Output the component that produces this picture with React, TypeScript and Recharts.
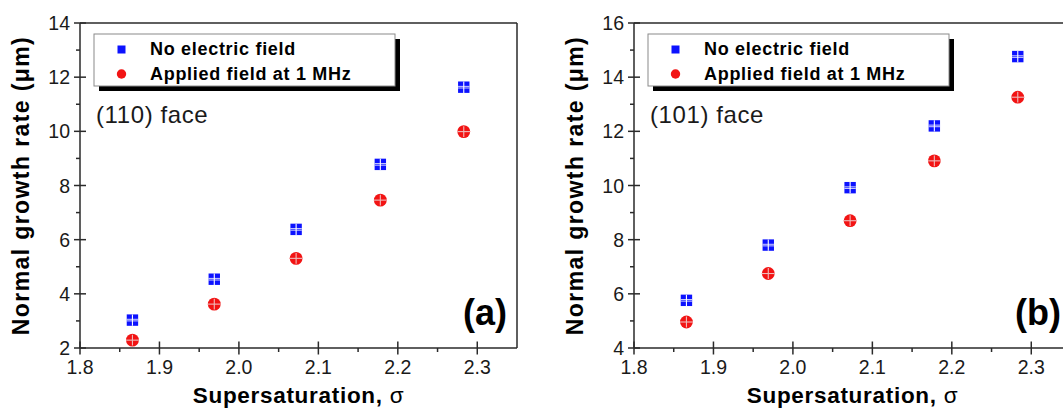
import { ScatterChart, Scatter, XAxis, YAxis, ReferenceLine } from "recharts";

// sigma positions shared by both panels
const sigma = [1.866, 1.969, 2.072, 2.178, 2.283];

// (110) face
const noField110 = [3.03, 4.54, 6.38, 8.78, 11.63];
const applied110 = [2.29, 3.62, 5.31, 7.46, 9.99];

// (101) face
const noField101 = [5.76, 7.8, 9.92, 12.2, 14.76];
const applied101 = [4.96, 6.75, 8.7, 10.91, 13.26];

const xTicks = [1.8, 1.85, 1.9, 1.95, 2.0, 2.05, 2.1, 2.15, 2.2, 2.25, 2.3];
const yTicks110 = [2, 3, 4, 5, 6, 7, 8, 9, 10, 11, 12, 13, 14];
const yTicks101 = [4, 5, 6, 7, 8, 9, 10, 11, 12, 13, 14, 15, 16];

const seriesNames = ["No electric field", "Applied field at 1 MHz"];

const FONT = '"Liberation Sans", Arial, Helvetica, sans-serif';
const AXIS = "#2a2a2a";
const TXT = "#1a1a1a";
const BLUE = "#0c12ff";
const RED = "#f21414";

const W = 546;
const H = 408;
const YW = 80;
const XH = 60;
const MARGIN = { top: 23, right: 29, bottom: 0, left: 0 };
const PL = YW;
const PR = W - MARGIN.right;
const PT = MARGIN.top;
const PB = H - XH;

const toPts = (ys: number[]) => sigma.map((x, i) => ({ x, y: ys[i] }));

function XTick({ x, y, payload }: any) {
  const v = payload.value as number;
  const major = Math.abs(v * 10 - Math.round(v * 10)) < 1e-6;
  return (
    <g>
      {major ? (
        <line x1={x} x2={x} y1={y - 6.5} y2={y + 6.5} stroke={AXIS} strokeWidth={1.5} />
      ) : (
        <line x1={x} x2={x} y1={y} y2={y + 4} stroke={AXIS} strokeWidth={1.5} />
      )}
      {major && (
        <text x={x} y={y + 26} textAnchor="middle" fontSize={19.5} fill={TXT} fontFamily={FONT}>
          {v.toFixed(1)}
        </text>
      )}
    </g>
  );
}

function YTick({ x, y, payload }: any) {
  const v = payload.value as number;
  const major = v % 2 === 0;
  return (
    <g>
      {major ? (
        <line x1={x - 6} x2={x + 6} y1={y} y2={y} stroke={AXIS} strokeWidth={1.5} />
      ) : (
        <line x1={x - 4} x2={x} y1={y} y2={y} stroke={AXIS} strokeWidth={1.5} />
      )}
      {major && (
        <text x={x - 10} y={y + 7} textAnchor="end" fontSize={19.5} fill={TXT} fontFamily={FONT}>
          {v}
        </text>
      )}
    </g>
  );
}

function SquareDot({ cx, cy }: any) {
  const s = 5.7;
  return (
    <g>
      <rect x={cx - s} y={cy - s} width={2 * s} height={2 * s} fill={BLUE} />
      <line x1={cx - s} x2={cx + s} y1={cy - 0.8} y2={cy - 0.8} stroke="#ffffff" strokeWidth={0.8} />
      <line x1={cx - s} x2={cx + s} y1={cy + 0.8} y2={cy + 0.8} stroke="#ffffff" strokeWidth={0.8} />
      <line x1={cx} x2={cx} y1={cy - s} y2={cy + s} stroke="#ffffff" strokeWidth={1.1} />
    </g>
  );
}

function CircleDot({ cx, cy }: any) {
  const r = 6.4;
  return (
    <g>
      <circle cx={cx} cy={cy} r={r} fill={RED} />
      <line x1={cx - r} x2={cx + r} y1={cy} y2={cy} stroke="#eebbbb" strokeWidth={1.1} />
      <line x1={cx} x2={cx} y1={cy - r + 1} y2={cy + r - 1} stroke="#eebbbb" strokeWidth={1.1} />
    </g>
  );
}

function Panel({
  left,
  yDomain,
  yTicks,
  noField,
  applied,
  face,
  letter,
}: {
  left: number;
  yDomain: [number, number];
  yTicks: number[];
  noField: number[];
  applied: number[];
  face: string;
  letter: string;
}) {
  const lx = PL + 14;
  const ly = 34;
  const cxMid = (PL + PR) / 2;
  const cyMid = (PT + PB) / 2;
  return (
    <div style={{ position: "absolute", left, top: 0, width: W, height: H }}>
      <ScatterChart width={W} height={H} margin={MARGIN}>
        <XAxis
          type="number"
          dataKey="x"
          domain={[1.8, 2.35]}
          ticks={xTicks}
          interval={0}
          allowDataOverflow
          tickLine={false}
          tickSize={0}
          tickMargin={0}
          height={XH}
          axisLine={{ stroke: AXIS, strokeWidth: 1.5 }}
          tick={(p: any) => <XTick {...p} />}
        />
        <YAxis
          type="number"
          dataKey="y"
          domain={yDomain}
          ticks={yTicks}
          interval={0}
          allowDataOverflow
          tickLine={false}
          tickSize={0}
          tickMargin={0}
          width={YW}
          axisLine={{ stroke: AXIS, strokeWidth: 1.5 }}
          tick={(p: any) => <YTick {...p} />}
        />
        <ReferenceLine y={yDomain[1]} stroke={AXIS} strokeWidth={1.5} />
        <ReferenceLine x={2.35} stroke={AXIS} strokeWidth={1.5} />
        <Scatter name={seriesNames[0]} data={toPts(noField)} shape={SquareDot} isAnimationActive={false} />
        <Scatter name={seriesNames[1]} data={toPts(applied)} shape={CircleDot} isAnimationActive={false} />
      </ScatterChart>
      <svg
        width={W}
        height={H}
        style={{ position: "absolute", left: 0, top: 0, pointerEvents: "none" }}
        fontFamily={FONT}
      >
        {/* legend box with offset shadow */}
        <rect x={lx + 5} y={ly + 5} width={301} height={52} fill="#000" />
        <rect x={lx} y={ly} width={301} height={52} fill="#fff" stroke="#8a8a8a" strokeWidth={1} />
        <rect x={lx + 23.5} y={ly + 11.5} width={8} height={8} fill={BLUE} />
        <circle cx={lx + 27.5} cy={ly + 40} r={4.7} fill={RED} />
        <text x={lx + 56} y={ly + 21} fontSize={18} fontWeight="bold" letterSpacing={0.7} fill="#000">
          {seriesNames[0]}
        </text>
        <text x={lx + 56} y={ly + 45.5} fontSize={18} fontWeight="bold" letterSpacing={0.7} fill="#000">
          {seriesNames[1]}
        </text>
        <text x={PL + 16} y={123} fontSize={24} letterSpacing={0.6} fill={TXT}>
          {face}
        </text>
        <text x={PR - 10} y={325} fontSize={36} fontWeight="bold" textAnchor="end" fill="#000">
          {letter}
        </text>
        <text x={cxMid} y={403} fontSize={22.5} fontWeight="bold" letterSpacing={0.7} textAnchor="middle" fill="#000">
          Supersaturation, <tspan fontWeight="normal">σ</tspan>
        </text>
        <text
          x={29}
          y={cyMid}
          transform={`rotate(-90 29 ${cyMid})`}
          fontSize={23}
          fontWeight="bold"
          letterSpacing={1.4}
          textAnchor="middle"
          fill="#000"
        >
          Normal growth rate (μm)
        </text>
      </svg>
    </div>
  );
}

export default function App() {
  return (
    <div
      style={{
        position: "absolute",
        left: 0,
        top: 0,
        width: 1063,
        height: 408,
        overflow: "hidden",
        background: "#fff",
      }}
    >
      <Panel
        left={0}
        yDomain={[2, 14]}
        yTicks={yTicks110}
        noField={noField110}
        applied={applied110}
        face="(110) face"
        letter="(a)"
      />
      <Panel
        left={554}
        yDomain={[4, 16]}
        yTicks={yTicks101}
        noField={noField101}
        applied={applied101}
        face="(101) face"
        letter="(b)"
      />
    </div>
  );
}
